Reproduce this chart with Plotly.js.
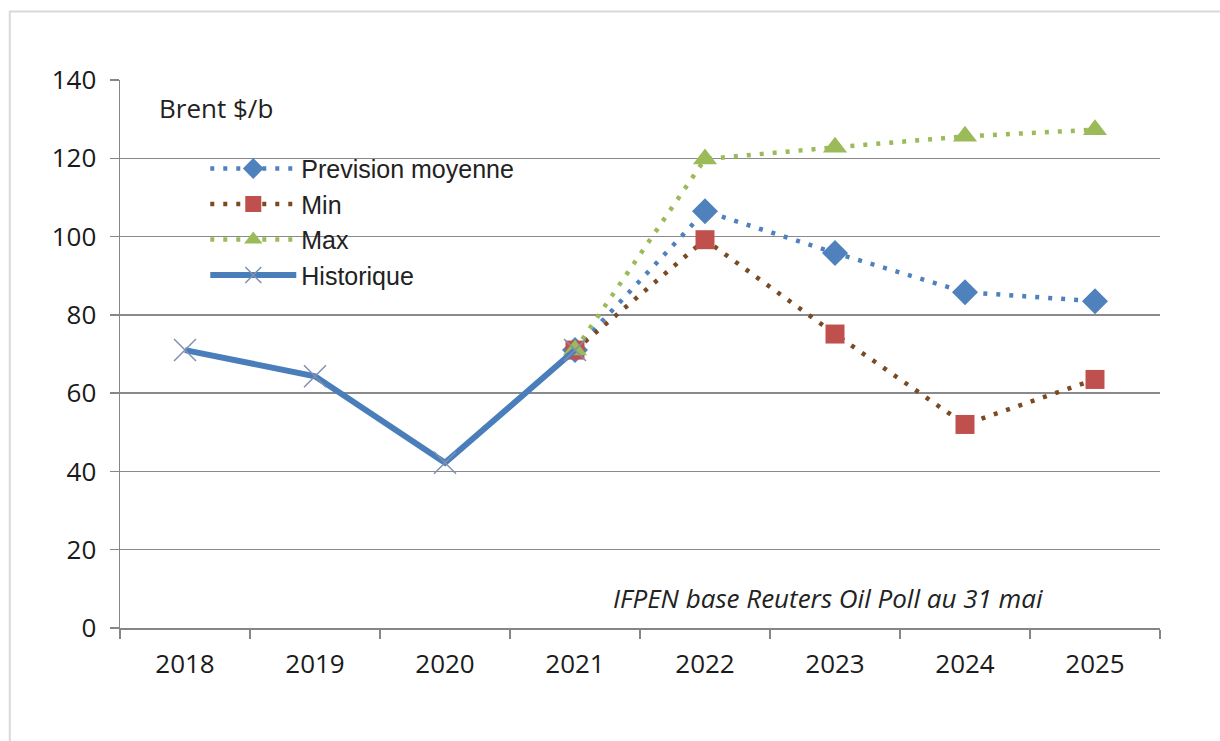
<!DOCTYPE html>
<html>
<head>
<meta charset="utf-8">
<script src="https://cdn.plot.ly/plotly-3.0.1.min.js"></script>
<style>
html,body{margin:0;padding:0;background:#fff;}
#chart{width:1220px;height:741px;}
</style>
</head>
<body>
<div id="chart"></div>
<script>
var years = ['2018','2019','2020','2021','2022','2023','2024','2025'];
var prevYears = ['2021','2022','2023','2024','2025'];
var histYears = ['2018','2019','2020','2021'];
var prevision = [71, 106.5, 95.8, 85.8, 83.5];
var minVals = [71, 99.2, 75.1, 52, 63.5];
var maxVals = [71, 119.8, 122.8, 125.6, 127.3];
var historique = [71, 64.3, 42.2, 71];
var seriesNames = ['Prevision moyenne', 'Min', 'Max', 'Historique'];
var yTicks = [0, 20, 40, 60, 80, 100, 120, 140];

var traces = [
  {x: prevYears, y: prevision, name: seriesNames[0], type: 'scatter', mode: 'lines+markers',
   line: {color: '#4f81bd', width: 4.5, dash: '4px,9px'},
   marker: {symbol: 'diamond', size: 20, color: '#4f81bd'}},
  {x: prevYears, y: minVals, name: seriesNames[1], type: 'scatter', mode: 'lines+markers',
   line: {color: '#7a4a22', width: 4.5, dash: '4px,9px'},
   marker: {symbol: 'square', size: 19, color: '#c0504d'}},
  {x: prevYears, y: maxVals, name: seriesNames[2], type: 'scatter', mode: 'lines+markers',
   line: {color: '#9bbb59', width: 4.5, dash: '4px,9px'},
   marker: {symbol: 'triangle-up', size: 21, color: '#9bbb59'}},
  {x: histYears, y: historique, name: seriesNames[3], type: 'scatter', mode: 'lines+markers',
   line: {color: '#4a7ebb', width: 6},
   marker: {symbol: 'x-thin', size: 22, color: '#4a7ebb', line: {color: '#7f8fb0', width: 1.5}}}
];

var tickFont = {family: 'Open Sans, sans-serif', size: 26, color: '#1a1a1a'};

var layout = {
  width: 1220, height: 741,
  paper_bgcolor: '#ffffff', plot_bgcolor: '#ffffff',
  margin: {l: 120, r: 60, t: 80, b: 113},
  showlegend: true,
  legend: {x: 0.082, y: 0.88, xanchor: 'left', yanchor: 'top', bgcolor: 'rgba(0,0,0,0)',
           font: {family: 'Liberation Sans, Arial, sans-serif', size: 25, color: '#222'},
           itemwidth: 86, tracegroupgap: 0, traceorder: 'normal'},
  xaxis: {type: 'category', categoryorder: 'array', categoryarray: years,
          range: [-0.5, 7.5], showgrid: false, zeroline: false,
          showline: true, linecolor: '#868686', linewidth: 1.5,
          ticks: 'outside', ticklen: 9, tickcolor: '#868686', tickwidth: 1.5,
          tickson: 'boundaries', ticklabelstandoff: 12,
          tickfont: tickFont},
  yaxis: {range: [0, 140], tickvals: yTicks, showgrid: true, gridcolor: '#8a8a8a', gridwidth: 1.5,
          zeroline: false, showline: true, linecolor: '#868686', linewidth: 1.5,
          ticks: 'outside', ticklen: 9, tickcolor: '#868686', tickwidth: 1.5,
          ticklabelstandoff: 8,
          tickfont: tickFont},
  shapes: [
    {type: 'rect', xref: 'paper', yref: 'paper', x0: -0.106, x1: 1.2, y0: -0.4, y1: 1.125,
     line: {color: '#d9d9d9', width: 2}, fillcolor: 'rgba(0,0,0,0)', layer: 'below'}
  ],
  annotations: [
    {text: 'Brent $/b', xref: 'paper', yref: 'paper', x: 0.036, y: 0.948, xanchor: 'left', yanchor: 'middle',
     showarrow: false, font: {family: 'Open Sans, sans-serif', size: 26, color: '#222'}},
    {text: '<i>IFPEN base Reuters Oil Poll au 31 mai</i>', xref: 'paper', yref: 'paper', x: 0.889, y: 0.055,
     xanchor: 'right', yanchor: 'middle', showarrow: false,
     font: {family: 'Open Sans, sans-serif', size: 26, color: '#222'}}
  ]
};

Plotly.newPlot('chart', traces, layout, {displayModeBar: false, staticPlot: true});
</script>
</body>
</html>
